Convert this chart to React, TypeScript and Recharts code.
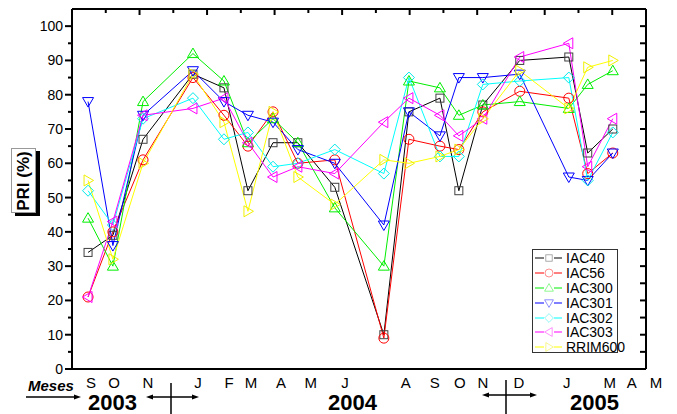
import React from "react";
import { LineChart, Line, XAxis, YAxis } from "recharts";

// sampling dates, in top-axis tick units (one tick = roughly two weeks)
const samplePos = [0.73, 1.86, 3.23, 5.5, 6.91, 8.0, 9.14, 10.27, 11.95, 14.18, 15.32, 16.73, 17.59, 18.68, 20.36, 22.59, 23.45, 24.59];

const IAC40 = [34, 39, 67, 86, 82, 52, 66, 66, 53, 10, 75, 79, 52, 77, 90, 91, 63, 70];
const IAC56 = [21, 40, 61, 85, 74, 65, 75, 60, 61, 9, 67, 65, 64, 75, 81, 79, 57, 63];
const IAC300 = [44, 30, 78, 92, 84, 66, 73, 66, 47, 30, 84, 82, 74, 77, 78, 76, 83, 87];
const IAC301 = [78, 36, 74, 87, 78, 74, 72, 64, 60, 42, 75, 68, 85, 85, 86, 56, 55, 63];
const IAC302 = [52, 42, 73, 79, 67, 69, 59, 60, 64, 57, 85, 62, 62, 83, 84, 85, 55, 69];
const IAC303 = [21, 43, 74, 76, 79, 66, 56, 59, 57, 72, 79, 74, 68, 73, 91, 95, 59, 73];
const RRIM600 = [55, 32, 60, 86, 72, 46, 75, 56, 48, 61, 60, 62, 64, 73, 87, 76, 88, 90];

const monthLabels = ["S", "O", "N", "J", "F", "M", "A", "M", "J", "A", "S", "O", "N", "D", "J", "M", "A", "M"];
const monthPos = [0.86, 1.91, 3.45, 5.73, 7.14, 8.14, 9.5, 10.86, 12.41, 15.18, 16.5, 17.64, 18.68, 20.32, 22.5, 24.45, 25.45, 26.55];

const yTicks = [0, 5, 10, 15, 20, 25, 30, 35, 40, 45, 50, 55, 60, 65, 70, 75, 80, 85, 90, 95, 100];
const topTicks = [1, 2, 3, 4, 5, 6, 7, 8, 9, 10, 11, 12, 13, 14, 15, 16, 17, 18, 19, 20, 21, 22, 23, 24, 25, 26];

const FONT = "Arial, 'Liberation Sans', sans-serif";

const series = [
  { key: "IAC40", values: IAC40, color: "#000000", mark: "#404040", shape: "square" },
  { key: "IAC56", values: IAC56, color: "#ff0000", mark: "#ff0000", shape: "circle" },
  { key: "IAC300", values: IAC300, color: "#00ee00", mark: "#00ee00", shape: "up" },
  { key: "IAC301", values: IAC301, color: "#0000ff", mark: "#0000ff", shape: "down" },
  { key: "IAC302", values: IAC302, color: "#00ffff", mark: "#00e8e8", shape: "diamond" },
  { key: "IAC303", values: IAC303, color: "#ff00ff", mark: "#ff00ff", shape: "left" },
  { key: "RRIM600", values: RRIM600, color: "#ffff00", mark: "#f0f000", shape: "right" },
];

const data = samplePos.map((x, i) => {
  const row: any = { x };
  series.forEach((s) => (row[s.key] = s.values[i]));
  return row;
});

function Marker({ shape, cx, cy, color }: any) {
  const p = { fill: "none", stroke: color, strokeWidth: 1 };
  switch (shape) {
    case "square":
      return <rect x={cx - 4} y={cy - 4} width={8} height={8} {...p} />;
    case "circle":
      return <circle cx={cx} cy={cy} r={5} {...p} />;
    case "up":
      return <polygon points={`${cx},${cy - 5.5} ${cx - 5.5},${cy + 4} ${cx + 5.5},${cy + 4}`} {...p} />;
    case "down":
      return <polygon points={`${cx - 5.5},${cy - 4} ${cx + 5.5},${cy - 4} ${cx},${cy + 5.5}`} {...p} />;
    case "diamond":
      return <polygon points={`${cx},${cy - 5.5} ${cx + 5.5},${cy} ${cx},${cy + 5.5} ${cx - 5.5},${cy}`} {...p} />;
    case "left":
      return <polygon points={`${cx - 5.5},${cy} ${cx + 4},${cy - 5.5} ${cx + 4},${cy + 5.5}`} {...p} />;
    default:
      return <polygon points={`${cx + 5.5},${cy} ${cx - 4},${cy - 5.5} ${cx - 4},${cy + 5.5}`} {...p} />;
  }
}

const LeftTick = (props: any) => {
  const { x, y, payload } = props;
  const major = payload.value % 10 === 0;
  return (
    <g>
      <line x1={x} x2={x - (major ? 7 : 4)} y1={y} y2={y} stroke="#000" strokeWidth={2} />
      {major && (
        <text x={x - 9} y={y} dy="0.36em" textAnchor="end" fontSize={14} fontFamily={FONT} fill="#000">
          {payload.value}
        </text>
      )}
    </g>
  );
};

const RightTick = (props: any) => {
  const { x, y } = props;
  return <line x1={x} x2={x - 6} y1={y} y2={y} stroke="#000" strokeWidth={2} />;
};

const TopTick = (props: any) => {
  const { x, y, payload } = props;
  const len = payload.value % 2 === 0 ? 6 : 4;
  return <line x1={x} x2={x} y1={y} y2={y + len} stroke="#000" strokeWidth={2} />;
};

const MonthTick = (props: any) => {
  const { x, y, payload } = props;
  const i = monthPos.indexOf(payload.value);
  return (
    <text x={x} y={y + 19} textAnchor="middle" fontSize={15} fontFamily={FONT} fill="#000">
      {monthLabels[i]}
    </text>
  );
};

const LegendBox = () => (
  <div
    style={{
      position: "absolute",
      left: 532,
      top: 249,
      width: 86,
      height: 104,
      border: "1px solid #333",
      background: "#fff",
      boxSizing: "border-box",
      paddingTop: 1,
    }}
  >
    {series.map((s) => (
      <div key={s.key} style={{ display: "flex", alignItems: "center", height: 14.8 }}>
        <svg width={32} height={14} style={{ flex: "none" }}>
          <line x1={2} x2={29} y1={7} y2={7} stroke={s.color} strokeWidth={1} />
          <rect x={11} y={2} width={10} height={10} fill="#fff" />
          <g opacity={0.55} transform="translate(16 7) scale(0.8) translate(-16 -7)">
            <Marker shape={s.shape} cx={16} cy={7} color={s.mark} />
          </g>
        </svg>
        <span style={{ fontFamily: FONT, fontSize: 14, lineHeight: "14px", color: "#000", marginLeft: 1 }}>
          {s.key}
        </span>
      </div>
    ))}
  </div>
);

const axisLine = { stroke: "#000", strokeWidth: 2 };

const label = (left: number, top: number, size: number, italic = false): React.CSSProperties => ({
  position: "absolute",
  left,
  top,
  fontFamily: FONT,
  fontSize: size,
  fontWeight: "bold",
  fontStyle: italic ? "italic" : "normal",
  lineHeight: "19px",
  color: "#000",
});

export default function App() {
  return (
    <div style={{ position: "absolute", left: 0, top: 0, width: 677, height: 414, background: "#fff" }}>
      <LineChart width={677} height={414} data={data} margin={{ top: 5, right: 5, bottom: 5, left: 12 }}>
        <XAxis
          dataKey="x"
          type="number"
          domain={[0, 26.1]}
          allowDataOverflow
          ticks={monthPos}
          interval={0}
          height={40}
          tickSize={0}
          tickMargin={0}
          tickLine={false}
          axisLine={axisLine}
          tick={<MonthTick />}
        />
        <XAxis
          xAxisId="top"
          orientation="top"
          type="number"
          domain={[0, 26.1]}
          allowDataOverflow
          ticks={topTicks}
          interval={0}
          height={4}
          tickSize={0}
          tickMargin={0}
          tickLine={false}
          axisLine={axisLine}
          tick={<TopTick />}
        />
        <YAxis
          type="number"
          domain={[0, 105]}
          allowDataOverflow
          ticks={yTicks}
          interval={0}
          width={60}
          tickSize={0}
          tickMargin={0}
          tickLine={false}
          axisLine={axisLine}
          tick={<LeftTick />}
        />
        <YAxis
          yAxisId="right"
          orientation="right"
          type="number"
          domain={[0, 105]}
          allowDataOverflow
          ticks={yTicks}
          interval={0}
          width={26}
          tickSize={0}
          tickMargin={0}
          tickLine={false}
          axisLine={axisLine}
          tick={<RightTick />}
        />
        {series.map((s) => (
          <Line
            key={s.key}
            dataKey={s.key}
            stroke={s.color}
            strokeWidth={1}
            isAnimationActive={false}
            activeDot={false}
            dot={(p: any) => (
              <g key={`${s.key}-${p.index}`}>
                <Marker shape={s.shape} cx={p.cx} cy={p.cy} color={s.mark} />
              </g>
            )}
          />
        ))}
      </LineChart>

      <LegendBox />

      {/* y-axis title in a shadowed box */}
      <div
        style={{
          position: "absolute",
          left: 11,
          top: 148,
          width: 23,
          height: 63,
          border: "1px solid #999",
          background: "#fff",
          boxShadow: "4px 3px 0 #000",
          display: "flex",
          alignItems: "center",
          justifyContent: "center",
        }}
      >
        <span
          style={{
            transform: "rotate(-90deg)",
            whiteSpace: "nowrap",
            fontFamily: FONT,
            fontWeight: "bold",
            fontSize: 17,
            color: "#000",
          }}
        >
          PRI (%)
        </span>
      </div>

      {/* bottom annotations */}
      <div style={{ ...label(28, 378, 15, true), lineHeight: "15px" }}>Meses</div>
      <div style={label(88, 393, 22)}>2003</div>
      <div style={label(328, 393, 22)}>2004</div>
      <div style={label(570, 393, 22)}>2005</div>
      <svg width={677} height={414} style={{ position: "absolute", left: 0, top: 0, pointerEvents: "none" }}>
        <line x1={26} x2={78} y1={397} y2={397} stroke="#000" strokeWidth={1.5} />
        <polygon points="81,397 74,394.5 74,399.5" fill="#000" />
        <line x1={149} x2={196} y1={397} y2={397} stroke="#000" strokeWidth={1.5} />
        <polygon points="146,397 153,394.5 153,399.5" fill="#000" />
        <polygon points="199,397 192,394.5 192,399.5" fill="#000" />
        <line x1={171} x2={171} y1={383} y2={414} stroke="#000" strokeWidth={1.5} />
        <line x1={485} x2={534} y1={395} y2={395} stroke="#000" strokeWidth={1.5} />
        <polygon points="482,395 489,392.5 489,397.5" fill="#000" />
        <polygon points="537,395 530,392.5 530,397.5" fill="#000" />
        <line x1={506} x2={506} y1={380} y2={414} stroke="#000" strokeWidth={1.5} />
      </svg>
    </div>
  );
}
